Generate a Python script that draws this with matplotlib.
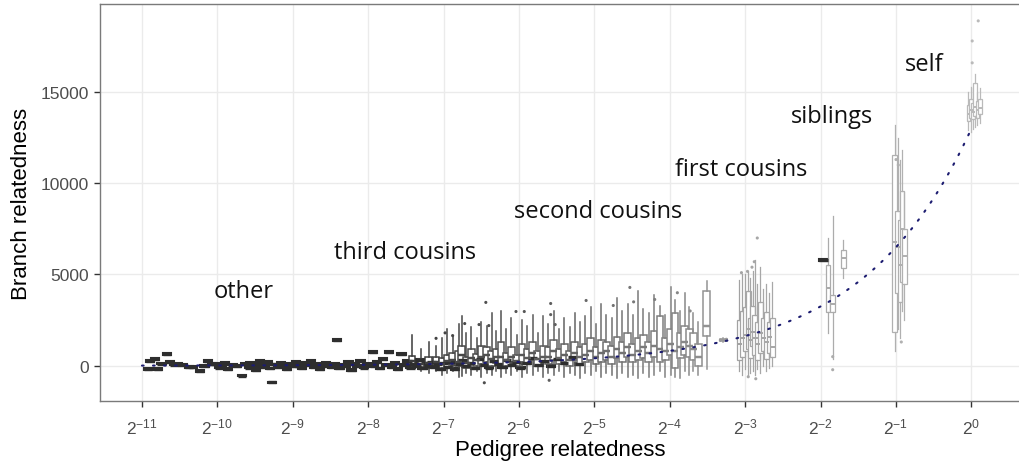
import numpy as np
import matplotlib
matplotlib.use("Agg")
import matplotlib.pyplot as plt
from matplotlib.colors import LinearSegmentedColormap

plt.rcParams["font.family"] = ["Liberation Sans", "DejaVu Sans"]
plt.rcParams["mathtext.fontset"] = "custom"
plt.rcParams["mathtext.rm"] = "Liberation Sans"
plt.rcParams["mathtext.default"] = "regular"

# x positions are log2(pedigree relatedness)
# box rows: (pos, whisker_lo, q1, median, q3, whisker_hi)

# dark dashes ("other" / distant pairs): (pos, q1, median, q3)
dash_boxes = [
    (-10.92, -220, -170, -120), (-10.89, 230, 270, 320), (-10.83, 340, 380, 430),
    (-10.79, -210, -160, -110), (-10.74, 80, 120, 170), (-10.67, 610, 650, 700),
    (-10.63, 170, 220, 260), (-10.57, 20, 60, 110), (-10.52, 60, 110, 150),
    (-10.46, 0, 40, 90), (-10.38, -120, -80, -30), (-10.32, -100, -60, -10),
    (-10.23, -320, -280, -230), (-10.17, -60, -20, 30), (-10.12, 230, 270, 320),
    (-10.07, 40, 80, 130), (-10.03, 60, 110, 150), (-9.98, -150, -110, -60),
    (-9.94, -100, -50, -10), (-9.90, 100, 150, 190), (-9.86, -210, -160, -120),
    (-9.80, 20, 60, 110), (-9.74, -50, -10, 40), (-9.67, -590, -550, -500),
    (-9.63, 60, 110, 150), (-9.58, -150, -100, -50), (-9.56, 120, 170, 220),
    (-9.52, -50, 0, 50), (-9.49, -300, -250, -200), (-9.46, 60, 110, 160),
    (-9.43, 230, 280, 330), (-9.40, -100, -50, 0), (-9.37, -20, 30, 80),
    (-9.33, 150, 200, 250), (-9.30, -200, -150, -100), (-9.28, -960, -920, -880),
    (-9.24, 20, 70, 120), (-9.20, -100, -50, 0), (-9.16, 100, 150, 200),
    (-9.12, -40, 10, 60), (-9.08, -220, -170, -120), (-9.04, 50, 100, 150),
    (-9.00, -80, -30, 20), (-8.96, 180, 230, 280), (-8.92, -50, 0, 50),
    (-8.88, -180, -130, -80), (-8.84, 90, 140, 190), (-8.80, -20, 30, 80),
    (-8.76, 220, 270, 320), (-8.72, -130, -80, -30), (-8.68, 30, 80, 130),
    (-8.64, -250, -200, -150), (-8.60, -60, -10, 40), (-8.56, 100, 150, 200),
    (-8.48, -100, -50, 0), (-8.44, 60, 110, 160), (-8.41, 1380, 1430, 1480),
    (-8.38, -200, -150, -100), (-8.34, 0, 50, 100), (-8.30, -80, -30, 20),
    (-8.26, 150, 200, 250), (-8.22, -300, -250, -200), (-8.18, 40, 90, 140),
    (-8.14, -50, 0, 50), (-8.10, 200, 250, 300), (-8.06, -150, -100, -50),
    (-8.02, 50, 100, 150), (-7.94, 720, 770, 820), (-7.92, -60, -10, 40),
    (-7.88, 150, 200, 250), (-7.84, -200, -150, -100), (-7.80, 300, 350, 400),
    (-7.76, 0, 50, 100), (-7.72, 700, 750, 800), (-7.68, -100, -50, 0),
    (-7.64, 100, 150, 200), (-7.60, -250, -200, -150), (-7.56, 600, 650, 700),
    (-7.52, -30, 20, 70), (-7.48, 200, 250, 300), (-7.44, -150, -100, -50),
    (-7.40, 50, 100, 150), (-7.36, -60, -10, 40), (-7.32, 250, 300, 350),
    (-7.28, -200, -150, -100), (-7.24, 80, 130, 180), (-7.20, -50, 0, 50),
    (-7.16, 180, 230, 280), (-7.12, -120, -70, -20), (-7.08, 30, 80, 130),
    (-7.04, -250, -200, -150), (-7.00, 120, 170, 220), (-6.95, -100, -50, 0),
    (-6.90, 150, 200, 250), (-6.85, -250, -200, -150), (-6.80, 50, 100, 150),
    (-6.75, 250, 300, 350), (-6.70, -80, -30, 20), (-6.64, 100, 150, 200),
    (-6.58, -200, -150, -100), (-6.52, 300, 350, 400), (-6.46, 0, 50, 100),
    (-6.40, -150, -100, -50), (-6.34, 200, 250, 300), (-6.28, 30, 80, 130),
    (-6.22, -100, -50, 0), (-6.16, 250, 300, 350), (-6.10, -20, 30, 80),
    (-6.04, 150, 200, 250), (-5.98, -150, -100, -50), (-5.90, 100, 150, 200),
    (-5.82, 350, 400, 450), (-5.74, 0, 50, 100), (-5.66, 200, 250, 300),
    (-5.58, -50, 0, 50), (-5.50, 300, 350, 400), (-5.40, 100, 150, 200),
    (-5.30, 400, 450, 500), (-5.20, 50, 100, 150), (-1.96, 5750, 5800, 5850),
]

# third / second cousins boxes
cousin_boxes = [
    (-7.42, -100, 50, 250, 550, 1700), (-7.30, -300, -50, 100, 350, 900),
    (-7.20, -400, -100, 150, 450, 1300), (-7.10, -300, 0, 200, 500, 1100),
    (-7.02, -500, -150, 100, 400, 1500), (-6.95, -400, -50, 250, 600, 2000),
    (-6.88, -300, 50, 300, 700, 1600), (-6.80, -600, 0, 200, 800, 2300),
    (-6.76, -550, 220, 600, 1100, 2700), (-6.70, -400, -100, 150, 500, 1800),
    (-6.63, -500, 100, 400, 900, 2100), (-6.56, -300, 0, 300, 650, 1500),
    (-6.50, -600, 100, 500, 1100, 2400), (-6.43, -400, 200, 600, 1000, 2200),
    (-6.36, -500, 0, 350, 800, 2900), (-6.30, -300, 150, 500, 900, 1900),
    (-6.24, -600, 100, 450, 1300, 3000), (-6.17, -400, 0, 300, 700, 2000),
    (-6.10, -500, 200, 500, 1000, 2600), (-6.03, -300, 0, 250, 600, 1700),
    (-5.96, -600, 200, 600, 1200, 2500), (-5.89, -400, 100, 400, 900, 2200),
    (-5.82, -500, 300, 700, 1300, 2800), (-5.75, -300, 0, 350, 800, 1800),
    (-5.68, -600, 200, 500, 1100, 2700), (-5.61, -400, 100, 450, 1000, 2300),
    (-5.54, -500, 300, 800, 1400, 3000), (-5.47, -300, 100, 400, 900, 2000),
    (-5.40, -600, 200, 600, 1200, 2600), (-5.33, -400, 0, 300, 800, 2100),
    (-5.26, -500, 300, 700, 1300, 2900), (-5.19, -700, 100, 500, 1000, 2400),
    (-5.12, -400, 200, 600, 1200, 2700), (-5.05, -500, 300, 800, 1500, 3200),
    (-4.98, -300, 100, 500, 1000, 2300), (-4.91, -600, 200, 700, 1400, 3400),
    (-4.84, -400, 300, 800, 1300, 2800), (-4.77, -500, 100, 500, 1100, 2600),
    (-4.70, -700, 400, 900, 1600, 3700), (-4.63, -400, 200, 700, 1300, 3000),
    (-4.56, -600, 500, 1000, 1800, 3400), (-4.49, -500, 200, 600, 1200, 2800),
    (-4.42, -700, 300, 800, 1500, 4100), (-4.35, -400, 400, 1000, 1700, 3100),
    (-4.28, -600, 200, 700, 1300, 2900), (-4.21, -500, 500, 1100, 1900, 3900),
    (-4.13, -300, 220, 900, 2700, 3300), (-4.06, -600, 300, 800, 1500, 2800),
    (-3.99, -500, 600, 1200, 2000, 4300), (-3.93, -600, -100, 800, 2900, 3600),
    (-3.86, -700, 400, 1000, 1800, 3000), (-3.80, -300, 600, 1300, 2200, 4000),
    (-3.74, -500, 500, 1100, 2000, 3200), (-3.69, -300, 300, 900, 1800, 2900),
    (-3.62, -500, 0, 500, 1200, 2400), (-3.51, -165, 1650, 2200, 4120, 4670),
    (-3.29, 1320, 1380, 1420, 1470, 1520),
]
cousin_fliers_x = [-6.44, -6.88, -6.72, -6.53, -6.40, -6.46, -6.04, -5.93,
                   -5.58, -5.58, -5.11, -5.52, -4.75, -4.53, -4.48, -4.20,
                   -3.90, -3.73, -7.10, -6.98, -5.60, -3.33, -3.25]
cousin_fliers_y = [3470, 1650, 2310, 2255, 2200, -935, 2970, 2970,
                   3410, 2800, 3575, 2255, 3300, 4290, 3500, 3630,
                   4000, 3000, 1500, 1800, -800, 1400, 1450]

# first cousins
first_boxes = [
    (-3.08, -300, 300, 1200, 2500, 4700), (-3.04, -500, 500, 1500, 3000, 5000),
    (-3.00, -200, 800, 1700, 3200, 5000), (-2.96, -550, 935, 2000, 4070, 5170),
    (-2.93, -400, 400, 1400, 2600, 4800), (-2.90, -300, 1100, 1870, 3300, 5200),
    (-2.87, -500, 600, 1500, 2800, 5800), (-2.84, -200, 300, 1200, 2400, 4500),
    (-2.80, -400, 700, 1800, 3500, 5400), (-2.76, 0, 800, 1500, 2600, 4200),
    (-2.72, -300, 385, 1300, 2970, 4500), (-2.68, -100, 700, 1600, 2400, 4000),
    (-2.64, 0, 500, 1000, 2600, 4600),
]
first_fliers_x = [-2.97, -2.96, -2.86, -2.88, -2.84, -2.91, -3.05]
first_fliers_y = [5170, -605, -715, 5700, 7000, 5400, 5100]

# siblings (full and half)
sib_boxes = [
    (-1.90, 1800, 2970, 4235, 5500, 7000), (-1.84, 385, 2970, 3400, 3850, 8200),
    (-1.70, 4785, 5335, 5885, 6325, 6875),
    (-1.02, 830, 1870, 6800, 11540, 13200), (-0.98, 2000, 4000, 6500, 8500, 12500),
    (-0.95, 1500, 3500, 5500, 8000, 11300), (-0.92, 3000, 4600, 7500, 9600, 11800),
    (-0.89, 2500, 4500, 6000, 7500, 9500),
]
sib_fliers_x = [-1.84, -1.84, -1.00, -0.97, -0.93]
sib_fliers_y = [495, -220, 11300, 11000, 1300]

# self
self_boxes = [
    (-0.04, 12900, 13400, 13800, 14300, 15000), (-0.01, 12800, 13600, 14000, 14600, 15300),
    (0.02, 13000, 13500, 13900, 14400, 15200), (0.05, 13100, 13700, 14200, 15500, 16000),
    (0.08, 13200, 13600, 14000, 14500, 15000), (0.11, 13300, 13800, 14100, 14600, 15200),
]
self_fliers_x = [0.09, 0.01, 0.01]
self_fliers_y = [18900, 17800, 16600]

# expected branch relatedness per unit of pedigree relatedness
expected_slope = 13000

labels = ["other", "third cousins", "second cousins", "first cousins", "siblings", "self"]
label_x = [-9.65, -7.51, -4.95, -3.06, -1.85, -0.63]
label_y = [4070, 6210, 8460, 10770, 13680, 16540]

xtick_pos = list(range(-11, 1))

shade = LinearSegmentedColormap.from_list(
    "shade",
    [(0.0, "#2c2c2c"), (0.32, "#3a3a3a"), (0.45, "#555555"), (0.55, "#6c6c6c"),
     (0.64, "#838383"), (0.70, "#999999"), (0.73, "#a6a6a6"), (0.91, "#b0b0b0"),
     (1.0, "#bababa")])


def shade_of(p):
    return shade((p + 11) / 11)


def draw_boxes(ax, rows, width, color=None, lw=0.9):
    for r in rows:
        if len(r) == 4:
            pos, q1, med, q3 = r
            lo, hi = q1, q3
        else:
            pos, lo, q1, med, q3, hi = r
        c = color if color is not None else shade_of(pos)
        stats = [dict(whislo=lo, q1=q1, med=med, q3=q3, whishi=hi, fliers=[])]
        ax.bxp(stats, positions=[pos], widths=width, showcaps=False,
               patch_artist=True, manage_ticks=False,
               boxprops=dict(facecolor="white", edgecolor=c, linewidth=lw),
               whiskerprops=dict(color=c, linewidth=lw),
               medianprops=dict(color=c, linewidth=lw * 1.6))


fig = plt.figure(figsize=(10.2, 4.64), dpi=100)
ax = fig.add_axes([0.098, 0.1336, 0.902, 0.8554])

draw_boxes(ax, dash_boxes, 0.11, color="#2e2e2e", lw=1.5)
draw_boxes(ax, cousin_boxes, 0.09, lw=1.1)
draw_boxes(ax, first_boxes, 0.07)
draw_boxes(ax, sib_boxes, 0.06)
draw_boxes(ax, self_boxes, 0.05)

for fx, fy in [(cousin_fliers_x, cousin_fliers_y), (first_fliers_x, first_fliers_y),
               (sib_fliers_x, sib_fliers_y), (self_fliers_x, self_fliers_y)]:
    ax.scatter(fx, fy, s=5, c=[shade_of(v) for v in fx], linewidths=0, zorder=2)

xs = np.linspace(-11, 0, 300)
ax.plot(xs, expected_slope * 2.0 ** xs, color="#1c1c70", lw=1.5,
        linestyle=(0, (0.8, 4.5)), dash_capstyle="round", zorder=3)

for t, x, y in zip(labels, label_x, label_y):
    ax.text(x, y, t, ha="center", va="center", fontsize=17,
            family="Open Sans", color="#111111")

ax.set_xlim(-11.557, 0.644)
ax.set_ylim(-1935, 19820)
ax.set_xticks(xtick_pos)
ax.set_xticklabels([f"$2^{{{p}}}$" for p in xtick_pos])
ax.set_yticks([0, 5000, 10000, 15000])
ax.grid(True, color="#ebebeb", linewidth=1.0, zorder=0)
ax.set_axisbelow(True)

for s in ["top", "left", "bottom"]:
    ax.spines[s].set_color("#7a7a7a")
    ax.spines[s].set_linewidth(1.0)
ax.spines["right"].set_visible(False)

ax.tick_params(axis="both", colors="#333333", length=4, width=1.0,
               labelsize=12.5, labelcolor="#4d4d4d", pad=4)
ax.tick_params(axis="x", pad=7)

ax.set_xlabel("Pedigree relatedness", fontsize=16, labelpad=2)
ax.set_ylabel("Branch relatedness", fontsize=16, labelpad=6)

fig.savefig("out.png", dpi=100)
